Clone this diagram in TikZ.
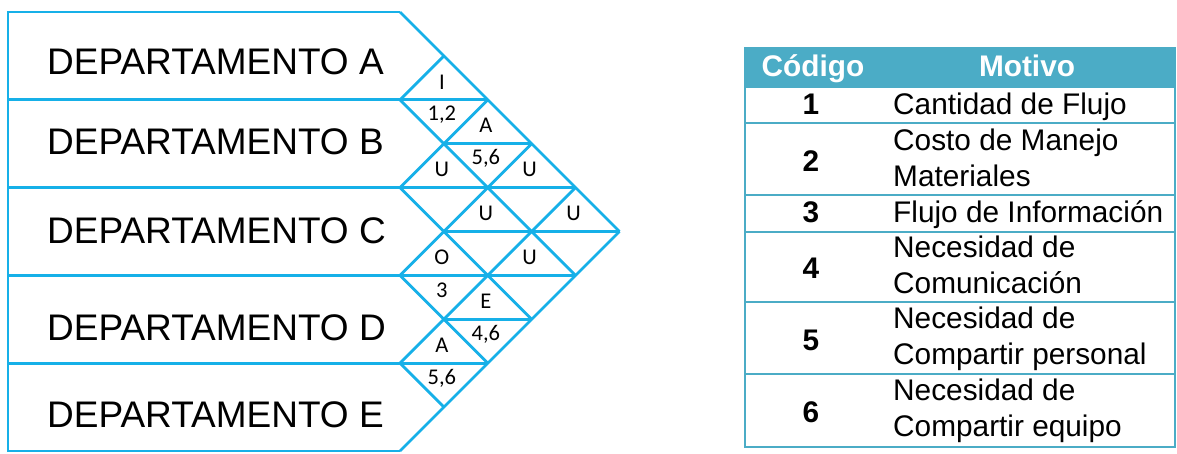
\documentclass[tikz,border=0pt]{standalone}
\usepackage{fontspec}
\setmainfont{Liberation Sans}
\newfontfamily\relfont{Carlito}
\usepackage{xcolor}
\definecolor{chartblue}{RGB}{22,176,232}
\definecolor{tableteal}{RGB}{75,172,198}
\begin{document}
\begin{tikzpicture}[x=1pt,y=-1pt,
  grid/.style={chartblue,line width=2.8pt},
  dept/.style={anchor=base west,inner sep=0pt,font=\fontsize{37}{40}\selectfont},
  rel/.style={inner sep=0pt,font=\relfont\fontsize{22.5}{24}\selectfont},
  rule/.style={tableteal,line width=1.8pt},
  cell/.style={anchor=base west,inner sep=0pt,align=left,font=\fontsize{29.8}{36}\selectfont},
  num/.style={anchor=base,inner sep=0pt,font=\bfseries\fontsize{29.8}{36}\selectfont},
  head/.style={anchor=base,inner sep=0pt,text=white,font=\bfseries\fontsize{29.8}{36}\selectfont}]
  \useasboundingbox (0,0) rectangle (1177,453);
  \def\u{43.9}
  % relationship chart
  \draw[grid] (400,12) -- (8,12) -- (8,451) -- (400,451);
  \foreach \k in {0,...,4}
    \draw[grid] (400,{12+2*\k*\u}) -- ({400+(5-\k)*\u},{12+(5+\k)*\u});
  \foreach \k in {1,...,5}
    \draw[grid] (400,{12+2*\k*\u}) -- ({400+\k*\u},{12+\k*\u});
  \foreach \j/\a/\b in {2/8/2,4/8/4,6/8/4,8/8/2,3/443.9/3,5/443.9/5,7/443.9/3}
    \draw[grid] (\a,{12+\j*\u}) -- ({400+\b*\u},{12+\j*\u});
  \node[dept] (depA) at (47,74) {DEPARTAMENTO A};
  \node[dept] (depB) at (47,154) {DEPARTAMENTO B};
  \node[dept] (depC) at (47,243) {DEPARTAMENTO C};
  \node[dept] (depD) at (47,340) {DEPARTAMENTO D};
  \node[dept] (depE) at (47,427) {DEPARTAMENTO E};
  \foreach \n/\i/\j/\t in {AB/1/2/I,AC/2/3/A,BC/1/4/U,AD/3/4/U,BD/2/5/U,AE/4/5/U,CD/1/6/O,BE/3/6/U,CE/2/7/E,DE/1/8/A}
    \node[rel] (r\n) at ({398+\i*\u},{12+\j*\u-18}) {\t};
  \foreach \n/\i/\j/\c in {AB/1/2/{1,2},AC/2/3/{5,6},CD/1/6/3,CE/2/7/{4,6},DE/1/8/{5,6}}
    \node[rel] (c\n) at ({398+\i*\u},{12+\j*\u+15}) {\c};
  % table of reasons
  \fill[tableteal] (745,48) rectangle (1175,87);
  \foreach \y in {87,123,195,232,302,374}
    \draw[rule] (745,\y) -- (1175,\y);
  \draw[rule] (745,48) rectangle (1175,447);
  \node[head] (hcod) at (813,76) {Código};
  \node[head] (hmot) at (1027,76) {Motivo};
  \foreach \n/\y/\b/\t in {1/114/114/Cantidad de Flujo,2/171/186/{Costo de Manejo\\Materiales},3/222/222/Flujo de Información,4/278/293/{Necesidad de\\Comunicación},5/350/364/{Necesidad de\\Compartir personal},6/422/436/{Necesidad de\\Compartir equipo}}{
    \node[num] (n\n) at (811,\y) {\n};
    \node[cell] (m\n) at (893,\b) {\t};
  }
\end{tikzpicture}
\end{document}
